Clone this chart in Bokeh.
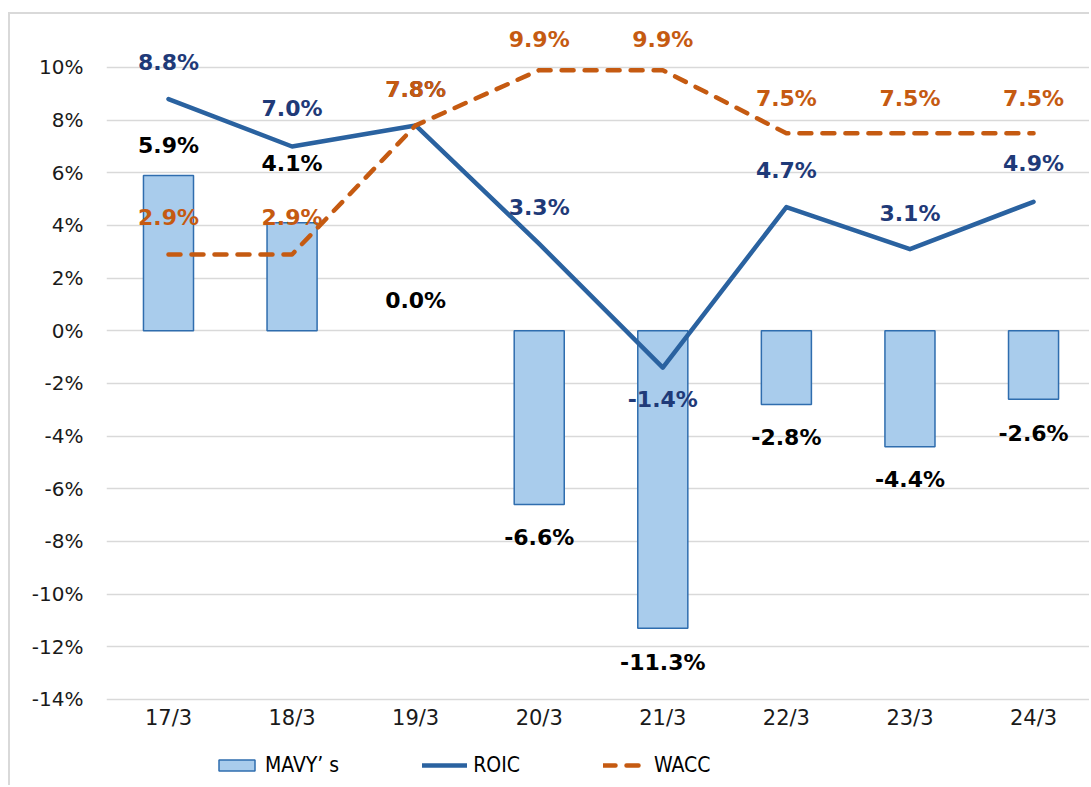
from bokeh.plotting import figure
from bokeh.models import (ColumnDataSource, LabelSet, Legend, LegendItem, FixedTicker,
                          Range1d)
from bokeh.core.properties import value
from bokeh.embed import file_html
from bokeh.resources import INLINE

categories = ["17/3", "18/3", "19/3", "20/3", "21/3", "22/3", "23/3", "24/3"]
mavy = [5.9, 4.1, 0.0, -6.6, -11.3, -2.8, -4.4, -2.6]
roic = [8.8, 7.0, 7.8, 3.3, -1.4, 4.7, 3.1, 4.9]
wacc = [2.9, 2.9, 7.8, 9.9, 9.9, 7.5, 7.5, 7.5]
y_ticks = [-14, -12, -10, -8, -6, -4, -2, 0, 2, 4, 6, 8, 10]

# label pixel offsets (positive = up)
mavy_off = [30, 59, 30, -33, -34, -33, -33, -34]
roic_off = [37, 38, 36, 36, -32, 37, 36, 38]
wacc_off = [37, 37, 36, 31, 31, 35, 35, 35]

idx = list(range(len(categories)))
src = ColumnDataSource(dict(
    x=idx, mavy=mavy, roic=roic, wacc=wacc,
    mavy_t=[f"{v:.1f}%" for v in mavy],
    roic_t=[f"{v:.1f}%" for v in roic],
    wacc_t=[f"{v:.1f}%" for v in wacc],
    mavy_o=mavy_off, roic_o=roic_off, wacc_o=wacc_off,
    bar_la=[0.0 if v == 0 else 1.0 for v in mavy],
))

FONT = "DejaVu Sans"

p = figure(width=1081, height=773, output_backend="svg", toolbar_location=None,
           x_range=Range1d(-0.5016, 7.469), y_range=Range1d(-17.345, 11.595),
           min_border_left=96, min_border_right=0, min_border_top=11, min_border_bottom=0)
p.styles = {"border-left": "2px solid #d9d9d9", "border-top": "2px solid #d9d9d9",
            "margin-top": "12px", "margin-left": "8px"}
p.outline_line_color = None
p.background_fill_color = "white"
p.border_fill_color = "white"

bars = p.vbar(x="x", top="mavy", bottom=0, width=0.405, source=src,
              fill_color="#A9CCEC", line_color="#2F6DAE", line_width=1.5,
              line_alpha="bar_la")
r_roic = p.line(x="x", y="roic", source=src, line_color="#2A62A0", line_width=4.5,
                line_join="round", line_cap="round")
r_wacc = p.line(x="x", y="wacc", source=src, line_color="#C55A11", line_width=4.5,
                line_dash="12 11", line_join="round", line_cap="round")

def labels(col, tcol, ocol, color):
    ls = LabelSet(x="x", y=col, text=tcol, y_offset=ocol, source=src,
                  text_align="center", text_baseline="middle",
                  text_font=value(FONT), text_font_style="bold", text_font_size="22px",
                  text_color=color)
    p.add_layout(ls)

labels("mavy", "mavy_t", "mavy_o", "black")
labels("roic", "roic_t", "roic_o", "#1F3A78")
labels("wacc", "wacc_t", "wacc_o", "#C55A11")

p.xgrid.grid_line_color = None
p.ygrid.grid_line_color = "#D9D9D9"
p.ygrid.grid_line_width = 1.5
p.yaxis.ticker = FixedTicker(ticks=y_ticks)
p.yaxis.major_label_overrides = {t: f"{t}%" for t in y_ticks}
p.xaxis.ticker = FixedTicker(ticks=idx)
p.xaxis.major_label_overrides = {i: c for i, c in zip(idx, categories)}
p.xaxis.fixed_location = min(y_ticks)
for ax in (p.xaxis, p.yaxis):
    ax.axis_line_color = None
    ax.major_tick_line_color = None
    ax.minor_tick_line_color = None
    ax.major_tick_out = 0
    ax.major_tick_in = 0
    ax.minor_tick_out = 0
    ax.minor_tick_in = 0
    ax.major_label_text_font = FONT
    ax.major_label_text_color = "#1a1a1a"
p.yaxis.major_label_standoff = 23
p.yaxis.major_label_text_font_size = "20px"
p.xaxis.major_label_text_font_size = "21px"
p.xaxis.major_label_standoff = 7

legend = Legend(items=[
    LegendItem(label="MAVY\u2019 s", renderers=[bars]),
    LegendItem(label="ROIC", renderers=[r_roic]),
    LegendItem(label="WACC", renderers=[r_wacc]),
], orientation="horizontal", location=(108, 10), spacing=83,
    glyph_width=45, glyph_height=14, label_standoff=6, label_height=20,
    label_text_font="Liberation Sans Narrow, DejaVu Sans Condensed, Liberation Sans",
    label_text_font_size="21px", label_text_color="black",
    border_line_color=None, background_fill_alpha=0, padding=0, margin=0)
p.add_layout(legend, "center")

open("out.html", "w").write(file_html(p, INLINE))
